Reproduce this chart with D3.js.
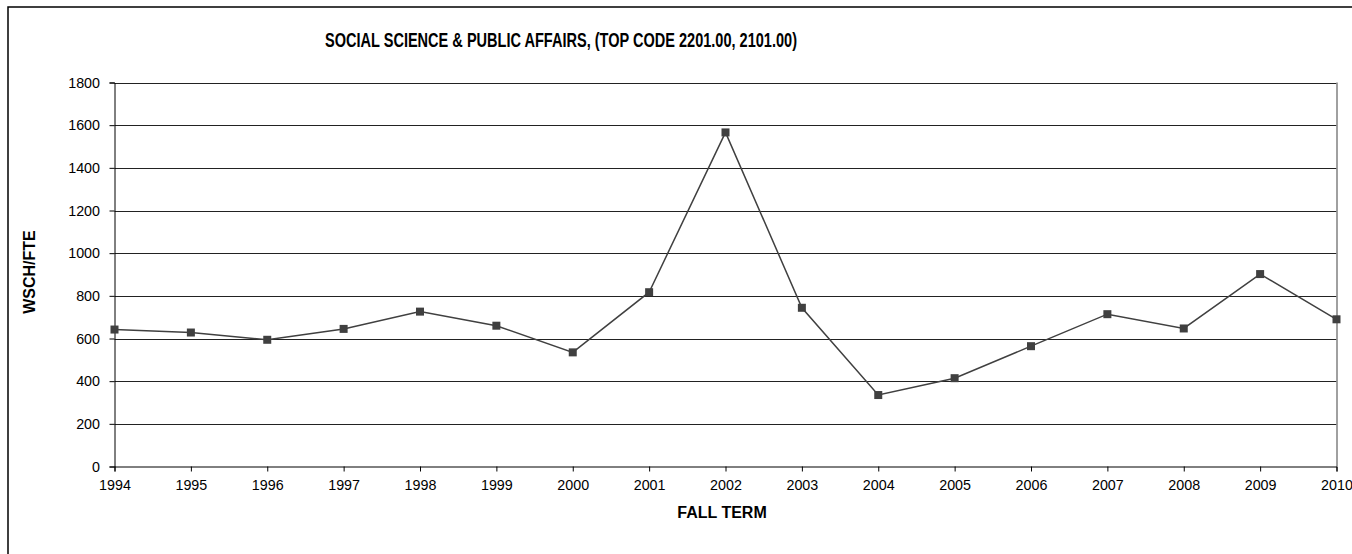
<!DOCTYPE html>
<html><head><meta charset="utf-8">
<script src="https://cdn.jsdelivr.net/npm/d3@7"></script>
<style>body{margin:0;background:#fff}svg{display:block}text{font-family:"Liberation Sans",Arial,sans-serif}</style>
</head><body><svg id="c" width="1352" height="554"></svg>
<script>
const years = [1994,1995,1996,1997,1998,1999,2000,2001,2002,2003,2004,2005,2006,2007,2008,2009,2010];
const values = [642,628,594,645,726,660,535,817,1566,744,335,414,564,714,647,902,690];
const yTicks = [0,200,400,600,800,1000,1200,1400,1600,1800];
const title = "SOCIAL SCIENCE & PUBLIC AFFAIRS, (TOP CODE 2201.00, 2101.00)";
const xTitle = "FALL TERM", yTitle = "WSCH/FTE";

const svg = d3.select("#c");
svg.append("rect").attr("x",8).attr("y",7).attr("width",1400).attr("height",600)
  .attr("fill","none").attr("stroke","#000").attr("stroke-width",1.5);

const L=114.5, R=1336.5, T=82.5, B=466.5;
const x = d3.scaleLinear().domain([1994,2010]).range([L,R]);
const y = d3.scaleLinear().domain([0,1800]).range([B,T]);

// gridlines
svg.append("g").selectAll("line").data(yTicks.slice(1)).join("line")
  .attr("x1",L).attr("x2",R).attr("y1",d=>Math.round(y(d))+0.5).attr("y2",d=>Math.round(y(d))+0.5)
  .attr("stroke","#222").attr("stroke-width",1);
// right border
svg.append("line").attr("x1",R+0.5).attr("x2",R+0.5).attr("y1",T).attr("y2",B)
  .attr("stroke","#808080").attr("stroke-width",1.5);

const yAxis = d3.axisLeft(y).tickValues(yTicks).tickSize(5).tickPadding(9.5).tickFormat(d3.format("d"));
const gy = svg.append("g").attr("transform",`translate(${L},0)`).call(yAxis);
gy.select(".domain").attr("stroke","#000");
gy.selectAll(".tick line").attr("stroke","#000");
gy.selectAll("text").attr("font-size",14.3).attr("fill","#000");

const xAxis = d3.axisBottom(x).tickValues(years).tickSize(5).tickPadding(8.5).tickFormat(d3.format("d"));
const gx = svg.append("g").attr("transform",`translate(0,${B})`).call(xAxis);
gx.select(".domain").attr("stroke","#000");
gx.selectAll(".tick line").attr("stroke","#000");
gx.selectAll("text").attr("font-size",14.3).attr("fill","#000");

const line = d3.line().x((d,i)=>x(years[i])).y(d=>y(d));
svg.append("path").datum(values).attr("d",line).attr("fill","none")
  .attr("stroke","#404040").attr("stroke-width",1.5);
svg.append("g").selectAll("rect").data(values).join("rect")
  .attr("x",(d,i)=>x(years[i])-4).attr("y",d=>y(d)-4).attr("width",8).attr("height",8)
  .attr("fill","#404040");

svg.append("text").attr("x",561).attr("y",47).attr("text-anchor","middle")
  .attr("font-size",20).attr("font-weight","bold").attr("textLength",472).attr("lengthAdjust","spacingAndGlyphs").text(title);
svg.append("text").attr("x",722).attr("y",518).attr("text-anchor","middle")
  .attr("font-size",16).attr("font-weight","bold").text(xTitle);
svg.append("text").attr("transform","translate(35,272) rotate(-90)").attr("text-anchor","middle")
  .attr("font-size",16).attr("font-weight","bold").text(yTitle);
</script></body></html>
